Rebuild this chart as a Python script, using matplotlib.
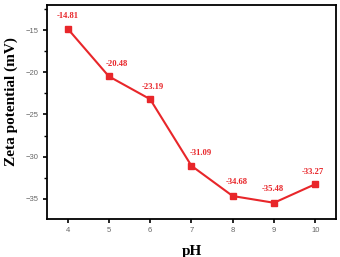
import matplotlib
matplotlib.use("Agg")
import matplotlib.pyplot as plt
from matplotlib.ticker import MultipleLocator

ph = [4, 5, 6, 7, 8, 9, 10]
zeta = [-14.81, -20.48, -23.19, -31.09, -34.68, -35.48, -33.27]
labels = ["-14.81", "-20.48", "-23.19", "-31.09", "-34.68", "-35.48", "-33.27"]

red = "#e8262a"
fig = plt.figure(figsize=(3.4, 2.57), dpi=100)
ax = fig.add_axes([0.138, 0.148, 0.85, 0.833])
ax.plot(ph, zeta, color=red, lw=1.5, marker="s", ms=4.5)
offs = [(0, 6), (6, 6), (2, 6), (7, 6), (3, 7), (-1, 7), (-2, 6)]
for x, y, t, o in zip(ph, zeta, labels, offs):
    ax.annotate(t, (x, y), xytext=o, textcoords="offset points", ha="center", va="bottom",
                color=red, fontsize=6.2, fontweight="bold", family="Liberation Serif")
ax.set_xlim(3.5, 10.5)
ax.set_ylim(-37.4, -12)
ax.set_xticks(ph)
ax.yaxis.set_major_locator(MultipleLocator(5))
ax.yaxis.set_minor_locator(MultipleLocator(2.5))
for s in ax.spines.values():
    s.set_linewidth(1.3)
ax.tick_params(axis="both", which="major", direction="out", length=3, width=1.2,
               labelsize=5.5, labelcolor="#666666", pad=3)
ax.tick_params(axis="y", which="minor", direction="out", length=2, width=1)
for lab in ax.get_xticklabels() + ax.get_yticklabels():
    lab.set_family("Liberation Sans")
ax.set_xlabel("pH", fontsize=11, fontweight="bold", family="Liberation Serif", labelpad=8)
ax.set_ylabel("Zeta potential (mV)", fontsize=11, fontweight="bold", family="Liberation Serif")
ax.yaxis.set_label_coords(-0.1, 0.55)
fig.savefig("out.png", dpi=100)
